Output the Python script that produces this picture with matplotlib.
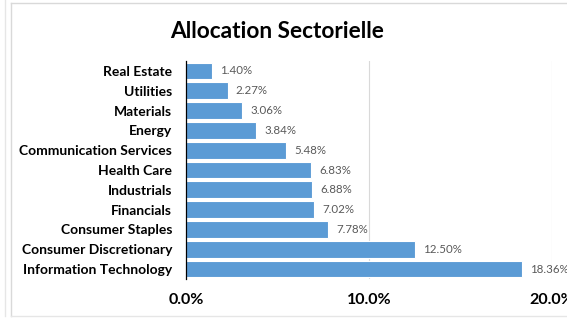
import matplotlib
matplotlib.use("Agg")
import matplotlib.pyplot as plt
from matplotlib.lines import Line2D

# data (bottom to top as drawn)
sectors = ["Information Technology", "Consumer Discretionary", "Consumer Staples",
           "Financials", "Industrials", "Health Care", "Communication Services",
           "Energy", "Materials", "Utilities", "Real Estate"]
weights = [18.36, 12.50, 7.78, 7.02, 6.88, 6.83, 5.48, 3.84, 3.06, 2.27, 1.40]
x_ticks = [0, 10, 20]
x_tick_labels = ["0.0%", "10.0%", "20.0%"]

plt.rcParams['font.family'] = ['Lato', 'DejaVu Sans']

W, H = 567, 318
fig = plt.figure(figsize=(W / 100, H / 100), dpi=100)
ax = fig.add_axes([186 / W, 1 - 279 / H, (552 - 186) / W, (279 - 61) / H])

pos = range(len(sectors))
ax.barh(pos, weights, height=0.84, color="#5B9BD5", edgecolor="white", linewidth=0.8, zorder=3)
for y, v in zip(pos, weights):
    ax.text(v + 0.45, y, f"{v:.2f}%", va="center", ha="left", fontsize=8.3,
            color="#595959", clip_on=False)

ax.set_xlim(0, 20)
ax.set_ylim(-0.5, len(sectors) - 0.5)
ax.set_yticks(list(pos))
ax.set_yticklabels(sectors, fontsize=10, fontweight="bold")
ax.set_xticks(x_ticks)
ax.set_xticklabels(x_tick_labels, fontsize=11.5, fontweight="bold")
ax.tick_params(axis="both", length=0)
ax.tick_params(axis="x", pad=10)
ax.tick_params(axis="y", pad=10)

ax.grid(axis="x", color="#D9D9D9", linewidth=0.8, zorder=0)
for s in ["top", "right", "bottom"]:
    ax.spines[s].set_visible(False)
ax.spines["left"].set_color("black")
ax.spines["left"].set_linewidth(0.9)
ax.spines["left"].set_zorder(4)
ax.get_xgridlines()[0].set_visible(False)

fig.text(277 / W, 1 - 31 / H, "Allocation Sectorielle", ha="center", va="center",
         fontsize=16.3, fontweight="bold")

# chart frame borders
fig.add_artist(Line2D([11 / W, 11 / W], [2 / H, 1 - 3 / H], color="#D9D9D9", lw=1))
fig.add_artist(Line2D([11 / W, 1], [1 - 3 / H, 1 - 3 / H], color="#D9D9D9", lw=1))
fig.add_artist(Line2D([11 / W, 1], [2 / H, 2 / H], color="#E6E6E6", lw=1))
fig.add_artist(Line2D([5 / W, 5 / W], [2 / H, 1], color="#E6E6E6", lw=1))

fig.savefig("out.png", dpi=100)
